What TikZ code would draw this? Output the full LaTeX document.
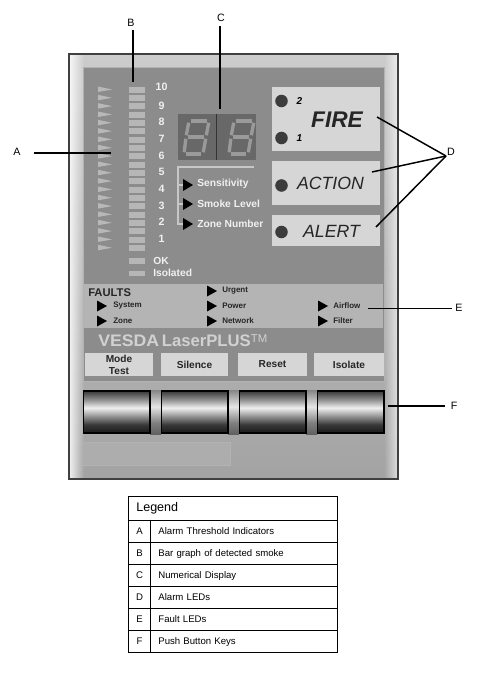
\documentclass[tikz,border=0pt]{standalone}
\usepackage{fontspec}
\setmainfont{Liberation Sans}
\usepackage{xcolor}
\usetikzlibrary{positioning,calc,fadings}
\definecolor{facec}{HTML}{8C8C8C}
\definecolor{stripc}{HTML}{B4B4B4}
\definecolor{capc}{HTML}{D6D6D6}
\definecolor{ledc}{HTML}{3C3C3C}
\definecolor{barc}{HTML}{B6B6B6}
\definecolor{dispc}{HTML}{686868}
\definecolor{segc}{HTML}{9A9A9A}
\definecolor{inkc}{HTML}{F0F0F0}
\pgfdeclareverticalshading{keyshade}{100bp}{
  color(0bp)=(black!90); color(25bp)=(black!90); color(35bp)=(black!78); color(45bp)=(black!42);
  color(55bp)=(black!6); color(65bp)=(black!45); color(75bp)=(black!78); color(100bp)=(black!78)}
\pgfdeclareverticalshading{gapshade}{100bp}{
  color(0bp)=(black!62); color(25bp)=(black!62); color(38bp)=(black!50); color(56bp)=(black!10);
  color(75bp)=(black!48); color(100bp)=(black!48)}

\begin{document}
\begin{tikzpicture}[
  x=0.75pt, y=-0.75pt,
  font=\fontsize{7.2}{8.5}\selectfont,
  node distance=0pt,
  lead/.style={draw=black, line width=1.1pt},
  letter/.style={font=\fontsize{8}{9}\selectfont, inner sep=0pt},
  scale num/.style={font=\fontsize{8}{9}\selectfont\bfseries, text=inkc, inner sep=0pt},
  lamp/.style={font=\fontsize{7.7}{9}\selectfont\bfseries, text=inkc, inner sep=0pt, anchor=west},
  fault/.style={font=\fontsize{6}{7}\selectfont\bfseries, text=black!85, inner sep=0pt, anchor=west},
  alarm/.style={fill=capc, minimum width=81pt, inner sep=0pt},
  alarmtext/.style={font=\fontsize{13.3}{15}\selectfont\itshape, text=black!85, inner sep=0pt},
  led/.style={fill=ledc, circle, inner sep=0pt, minimum size=9.4pt},
  keycap/.style={fill=capc, minimum height=17pt, inner sep=0pt, align=center,
              font=\fontsize{7.6}{9}\selectfont\bfseries, text=black!85},
  keybtn/.style={draw=black, line width=0.8pt, inner sep=0pt, outer sep=0pt, shading=keyshade,
              minimum width=50.2pt, minimum height=31.5pt},
  gapbar/.style={shading=gapshade},
  seg/.style={draw=segc, line width=2.5pt, shorten >=1.3pt, shorten <=1.3pt},
  lgd/.style={draw=black, line width=0.8pt, inner sep=0pt, outer sep=0pt, minimum height=16.5pt},
  lgdkey/.style={lgd, minimum width=16.1pt, text height=5.4pt, text depth=1.6pt},
  lgdtext/.style={lgd, minimum width=140.3pt, text width=128pt, align=left, text height=5.4pt, text depth=1.6pt},
  digit/.pic={
    \draw[seg] (6,1) -- (26,1);
    \draw[seg] (3,17) -- (23,17);
    \draw[seg] (1,34) -- (20,34);
    \draw[seg] (6,1) -- (3,17);
    \draw[seg] (3,17) -- (1,34);
    \draw[seg] (26,1) -- (23,17);
    \draw[seg] (23,17) -- (20,34);
  }]
\useasboundingbox (0,0) rectangle (478,677);

% Housing and face plate.
\draw[black!75, line width=1pt, top color=black!20, bottom color=black!36] (69,54) rectangle (398,479);
\fill[white, path fading=east, opacity=0.8] (70,55) rectangle (84,478);
\fill[white, path fading=west, opacity=0.6] (384,55) rectangle (397,478);
\fill[facec] (83,67) rectangle (384,381);
\draw[black!30, line width=0.6pt] (83,67) rectangle (384,381);
\fill[stripc] (84,284) rectangle (383,328);

% Threshold pointers and smoke bars.
\foreach \r in {0,...,19} {
  \fill[barc] (129,{86.8+8.33*\r}) rectangle (145,{92.8+8.33*\r});
  \fill[black!28] (98,{86.5+8.33*\r}) -- (112,{89.5+8.33*\r}) -- (98,{92+8.33*\r}) -- cycle;
}
\fill[barc] (129,258) rectangle (145,263.5);
\fill[barc] (129,270.5) rectangle (145,276);
\foreach \y/\n in {87/10,106/9,122/8,139/7,156/6,172/5,189/4,206/3,222/2,239/1}
  \node[scale num] (num\n) at (161.5,\y) {\n};
\node[lamp] (okl) at (153,261) {OK};
\node[lamp] (iso) at (153,272.5) {Isolated};

% Numerical display.
\fill[dispc] (178,114) rectangle (256,160);
\draw[black!80, line width=0.6pt] (216,114) -- (216,160);
\pic at (183,120) {digit};
\pic at (228,120) {digit};

% Display selector.
\draw[black!22, line width=2pt] (254,167) -- (178,167) -- (178,224) -- (184,224);
\draw[black!22, line width=1pt] (178,185) -- (184,185) (178,204) -- (184,204);
\foreach \y in {185,204,224}
  \fill[black] (183,{\y-6}) -- (193,\y) -- (183,{\y+6}) -- cycle;
\node[lamp] (sens) at (197,184) {Sensitivity};
\node[lamp] (smoke) at (197,204) {Smoke Level};
\node[lamp] (zone) at (197,224) {Zone Number};

% Alarm windows.
\node[alarm, minimum height=48pt] (fire) at (326,119) {};
\node[alarm, minimum height=33pt] (action) at (326,183) {};
\node[alarm, minimum height=23.2pt] (alert) at (326,230.5) {};
\node[font=\fontsize{17}{19}\selectfont\bfseries\itshape, text=black!85, inner sep=0pt] (firet) at (337,119.5) {FIRE};
\node[alarmtext] (actiont) at (330.5,183) {ACTION};
\node[alarmtext] (alertt) at (331.5,231) {ALERT};
\node[led] (led2) at (281.5,101) {};
\node[led] (led1) at (281.5,138) {};
\node[led] (leda) at (281.5,185.5) {};
\node[led] (ledb) at (281.5,232) {};
\node[font=\fontsize{7.5}{8}\selectfont\bfseries\itshape, inner sep=0pt] (two) at (299.5,101) {2};
\node[font=\fontsize{7.5}{8}\selectfont\bfseries\itshape, inner sep=0pt] (one) at (299.5,138) {1};

% Fault strip.
\node[font=\fontsize{8.4}{10}\selectfont\bfseries, text=black!85, inner sep=0pt, anchor=west] (faults) at (88,293) {FAULTS};
\foreach \x/\y/\t in {97/306/System,97/321/Zone,207/291/Urgent,207/306/Power,207/321/Network,318/306/Airflow,318/321/Filter} {
  \fill[black] (\x,{\y-5.5}) -- ({\x+10},\y) -- (\x,{\y+5.5}) -- cycle;
  \node[fault] (f\t) at ({\x+(\x==97 ? 16 : 15)},\y) {\t};
}

% Brand band.
\node[font=\fontsize{12.5}{14}\selectfont\bfseries, text=black!18, inner sep=0pt, anchor=west] (brand) at (98,341)
  {\scalebox{1.06}[1]{VESDA}\,LaserPLUS\raisebox{3pt}{\fontsize{8.5}{9}\selectfont\mdseries TM}};

% Key captions and keys.
\node[keycap, minimum width=51pt] (mode) at (119,364.5) {Mode\\Test};
\node[keycap, minimum width=50.5pt] (sil) at (194.5,364.5) {Silence};
\node[keycap, minimum width=51.5pt] (res) at (272.5,364.5) {Reset};
\node[keycap, minimum width=52.5pt] (isol) at (349,364.5) {Isolate};
\fill[gapbar] (150,390) rectangle (161,434);
\fill[gapbar] (228,390) rectangle (239,434);
\fill[gapbar] (306,390) rectangle (317,434);
\node[keybtn] (k1) at (116.5,412) {};
\node[keybtn] (k2) at (194.5,412) {};
\node[keybtn] (k3) at (272.5,412) {};
\node[keybtn] (k4) at (350.5,412) {};
\draw[black!30, line width=0.5pt, fill=black!32] (82,442) rectangle (230,465);

% Callouts.
\node[letter] (la) at (17,152) {A};
\node[letter] (lb) at (131,23) {B};
\node[letter] (lc) at (221,18) {C};
\node[letter] (ld) at (451,152) {D};
\node[letter] (le) at (459,308) {E};
\node[letter] (lf) at (454,406) {F};
\coordinate (starta) at (34,153);
\coordinate (startb) at (133,30);
\coordinate (startc) at (220,26);
\coordinate (starte) at (452,308);
\coordinate (startf) at (445,406);
\coordinate (enda) at (111,153);
\coordinate (endb) at (133,82);
\coordinate (endc) at (220,109);
\coordinate (endd1) at (377,117);
\coordinate (endd2) at (372,172);
\coordinate (endd3) at (376,227);
\coordinate (ende) at (368,308);
\coordinate (endf) at (388,406);
\coordinate (hubd) at (446,156);
\draw[lead] (starta) -- (enda);
\draw[lead] (startb) -- (endb);
\draw[lead] (startc) -- (endc);
\draw[lead] (hubd) -- (endd1);
\draw[lead] (hubd) -- (endd2);
\draw[lead] (hubd) -- (endd3);
\draw[lead, line width=0.7pt] (starte) -- (ende);
\draw[lead] (startf) -- (endf);

% Legend table.
\node[lgd, minimum width=156.4pt, minimum height=18.5pt, text width=145pt, align=left,
      font=\fontsize{9.4}{11}\selectfont] (lgdh) at (233,508.5) {Legend};
\node[lgdkey, anchor=north west] (ka) at (lgdh.south west) {A};
\node[lgdtext, right=of ka] (ta) {Alarm Threshold Indicators};
\node[lgdkey, below=of ka] (kb) {B};
\node[lgdtext, right=of kb] (tb) {Bar graph of detected smoke};
\node[lgdkey, below=of kb] (kc) {C};
\node[lgdtext, right=of kc] (tc) {Numerical Display};
\node[lgdkey, below=of kc] (kd) {D};
\node[lgdtext, right=of kd] (td) {Alarm LEDs};
\node[lgdkey, below=of kd] (ke) {E};
\node[lgdtext, right=of ke] (te) {Fault LEDs};
\node[lgdkey, below=of ke] (kf) {F};
\node[lgdtext, right=of kf] (tf) {Push Button Keys};
\end{tikzpicture}
\end{document}
